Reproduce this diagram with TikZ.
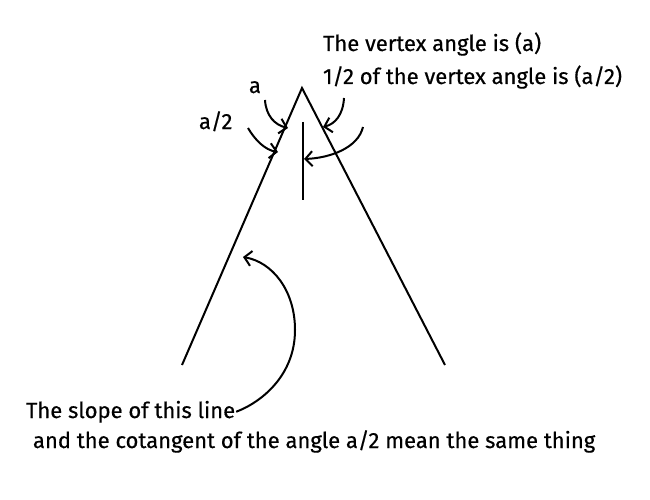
\documentclass[tikz,border=0pt]{standalone}
\usepackage{fontspec}
\setmainfont{Fira Sans}[FakeBold=0.5]
\usetikzlibrary{arrows.meta}
\begin{document}
\begin{tikzpicture}[x=1pt,y=-1pt,line width=2pt,
    >={Straight Barb[length=7pt,width=15pt]},
    every node/.style={font=\fontsize{22}{26}\selectfont,inner sep=0pt},
    lbl/.style={anchor=base west}]
    \useasboundingbox (0,0) rectangle (650,500);
    \pgfmathsetmacro{\apexx}{302}
    \pgfmathsetmacro{\apexy}{88}
    \coordinate (apex) at (\apexx,\apexy);
    \coordinate (lfoot) at (182,365);
    \coordinate (rfoot) at (445,365);
    \coordinate (bistop) at (\apexx+1,122);
    \coordinate (bisbot) at (\apexx+1,200);
    \draw[] (lfoot) -- (apex) -- (rfoot);
    \draw[] (bistop) -- (bisbot);
    % labels
    \node[lbl] (vertex) at (322,51) {The vertex angle is (a)};
    \node[lbl] (half) at (322,84) {1/2 of the vertex angle is (a/2)};
    \node[lbl] (a) at (248,93) {a};
    \node[lbl] (ahalf) at (198,129) {a/2};
    \node[lbl] (slope) at (25,418) {The slope of this line};
    \node[lbl] (cot) at (32,448) {and the cotangent of the angle a/2 mean the same thing};
    % arrow ends
    \coordinate (atip) at (288,128);
    \coordinate (ahtip) at (278,152);
    \coordinate (rtip) at (323,127);
    \coordinate (btip) at (304,159);
    \coordinate (rstart) at (344,98);
    \coordinate (bstart) at (363,127);
    \coordinate (stip) at (243,257);
    \draw[->] (265,100) .. controls (266,116) and (275,125) .. (atip);
    \draw[->] (248,128) .. controls (255,140) and (265,150) .. (ahtip);
    \draw[->] (rstart) .. controls (343,115) and (335,124) .. (rtip);
    \draw[->] (bstart) .. controls (358,148) and (330,158) .. (btip);
    \draw[->] (slope.east) .. controls (262,402) and (295,375) .. (295,330)
        .. controls (295,290) and (272,262) .. (stip);
\end{tikzpicture}
\end{document}
